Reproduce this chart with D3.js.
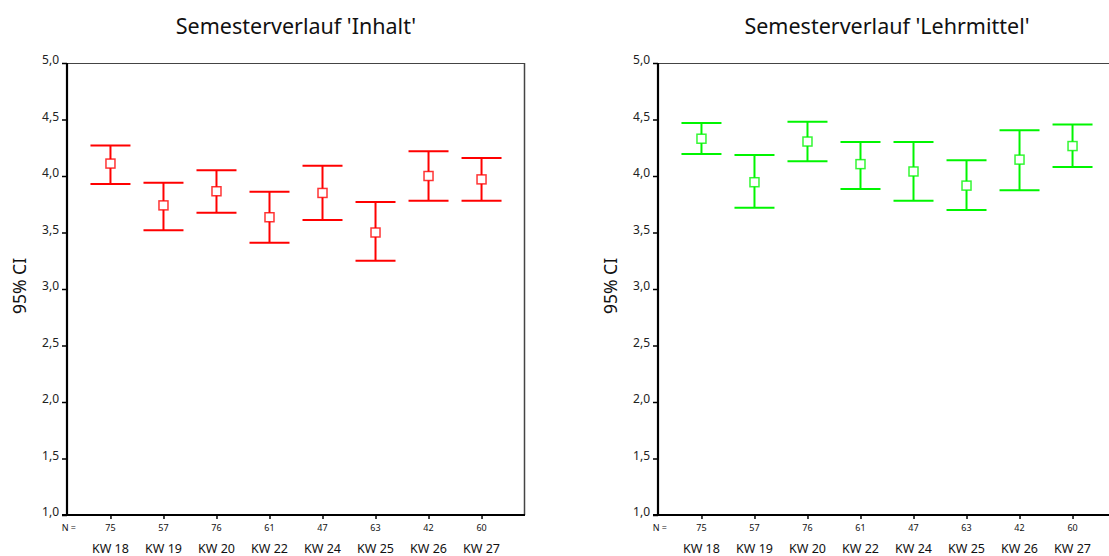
<!DOCTYPE html>
<html>
<head>
<meta charset="utf-8">
<script src="https://cdn.jsdelivr.net/npm/d3@7"></script>
<style>
  body { margin: 0; background: #fff; }
  svg { display: block; }
  text { font-family: "Noto Sans", "Open Sans", sans-serif; fill: #111; }
</style>
</head>
<body>
<div id="chart"></div>
<script>
// categories and counts
const weeks = ["KW 18", "KW 19", "KW 20", "KW 22", "KW 24", "KW 25", "KW 26", "KW 27"];
const counts = [75, 57, 76, 61, 47, 63, 42, 60];
const yTicks = [1.0, 1.5, 2.0, 2.5, 3.0, 3.5, 4.0, 4.5, 5.0];

// 'Inhalt' - mean and 95% CI bounds
const inhaltMean = [4.11, 3.74, 3.865, 3.635, 3.85, 3.50, 4.00, 3.97];
const inhaltLow  = [3.93, 3.52, 3.675, 3.41, 3.61, 3.25, 3.78, 3.78];
const inhaltHigh = [4.27, 3.94, 4.05, 3.86, 4.09, 3.77, 4.22, 4.16];

// 'Lehrmittel' - mean and 95% CI bounds
const lehrMean = [4.33, 3.945, 4.305, 4.105, 4.04, 3.915, 4.145, 4.265];
const lehrLow  = [4.195, 3.72, 4.13, 3.885, 3.78, 3.70, 3.875, 4.08];
const lehrHigh = [4.47, 4.185, 4.48, 4.30, 4.30, 4.14, 4.405, 4.455];

const W = 1109, H = 556;
const fmt = d => d.toFixed(1).replace(".", ",");

const svg = d3.select("#chart").append("svg")
    .attr("width", W)
    .attr("height", H);

function drawPanel(left, title, mean, low, high, color) {
    const width = 458, top = 63, height = 452;
    const g = svg.append("g")
        .attr("transform", "translate(" + left + "," + top + ")");

    const xScale = d3.scalePoint().domain(weeks).range([0, width]).padding(0.82);
    const yScale = d3.scaleLinear().domain([1, 5]).range([height, 0]);

    // frame: thin top and right edges
    g.append("line").attr("x1", 0).attr("x2", width).attr("y1", 0.5).attr("y2", 0.5)
        .attr("stroke", "#444").attr("stroke-width", 1);
    g.append("line").attr("x1", width - 0.5).attr("x2", width - 0.5).attr("y1", 0).attr("y2", height)
        .attr("stroke", "#444").attr("stroke-width", 1.5);

    // y axis
    const yAxisG = g.append("g")
        .call(d3.axisLeft(yScale).tickValues(yTicks).tickFormat(fmt).tickSize(5).tickPadding(3));
    yAxisG.select(".domain").attr("stroke", "#000").attr("stroke-width", 2.2).attr("d", "M0,0V" + height);
    yAxisG.selectAll(".tick line").attr("stroke", "#000").attr("stroke-width", 1.5);
    yAxisG.selectAll(".tick text").attr("font-size", 12).attr("dy", "0.05em")
        .style("font-family", "'Noto Sans', sans-serif").style("fill", "#222");

    // x axis with tick marks at category positions
    const xAxisG = g.append("g")
        .attr("transform", "translate(0," + height + ")")
        .call(d3.axisBottom(xScale).tickSize(4).tickFormat(""));
    xAxisG.select(".domain").attr("stroke", "#000").attr("stroke-width", 2.2).attr("d", "M-5,0H" + width);
    xAxisG.selectAll(".tick line").attr("stroke", "#000").attr("stroke-width", 1.5);

    // N = row
    g.append("text").attr("x", 9).attr("y", height + 16)
        .attr("text-anchor", "end").attr("font-size", 9).text("N =");
    g.selectAll(".nLabel").data(counts).join("text")
        .attr("class", "nLabel")
        .attr("x", (d, i) => xScale(weeks[i]))
        .attr("y", height + 16)
        .attr("text-anchor", "middle").attr("font-size", 9)
        .text(d => d);

    // category labels
    g.selectAll(".catLabel").data(weeks).join("text")
        .attr("class", "catLabel")
        .attr("x", d => xScale(d))
        .attr("y", height + 38)
        .attr("text-anchor", "middle").attr("font-size", 12.5)
        .text(d => d);

    // y axis title
    g.append("text")
        .attr("transform", "translate(" + (-41) + "," + (height / 2 - 3) + ") rotate(-90)")
        .attr("text-anchor", "middle").attr("font-size", 17.5)
        .text("95% CI");

    // panel title
    g.append("text")
        .attr("x", width / 2).attr("y", -29)
        .attr("text-anchor", "middle").attr("font-size", 21.5)
        .text(title);

    // error bars
    const capHalf = 20;
    const bars = g.selectAll(".bar").data(weeks).join("g").attr("class", "bar");
    bars.append("line")
        .attr("x1", d => xScale(d)).attr("x2", d => xScale(d))
        .attr("y1", (d, i) => yScale(high[i])).attr("y2", (d, i) => yScale(low[i]))
        .attr("stroke", color).attr("stroke-width", 2);
    bars.append("line")
        .attr("x1", d => xScale(d) - capHalf).attr("x2", d => xScale(d) + capHalf)
        .attr("y1", (d, i) => yScale(high[i])).attr("y2", (d, i) => yScale(high[i]))
        .attr("stroke", color).attr("stroke-width", 2);
    bars.append("line")
        .attr("x1", d => xScale(d) - capHalf).attr("x2", d => xScale(d) + capHalf)
        .attr("y1", (d, i) => yScale(low[i])).attr("y2", (d, i) => yScale(low[i]))
        .attr("stroke", color).attr("stroke-width", 2);
    bars.append("rect")
        .attr("x", d => xScale(d) - 4.5).attr("y", (d, i) => yScale(mean[i]) - 4.5)
        .attr("width", 9).attr("height", 9)
        .attr("fill", "#fff").attr("stroke", color).attr("stroke-opacity", 0.8).attr("stroke-width", 1.5);
}

drawPanel(67, "Semesterverlauf 'Inhalt'", inhaltMean, inhaltLow, inhaltHigh, "#ff0000");
drawPanel(658, "Semesterverlauf 'Lehrmittel'", lehrMean, lehrLow, lehrHigh, "#00f500");
</script>
</body>
</html>
